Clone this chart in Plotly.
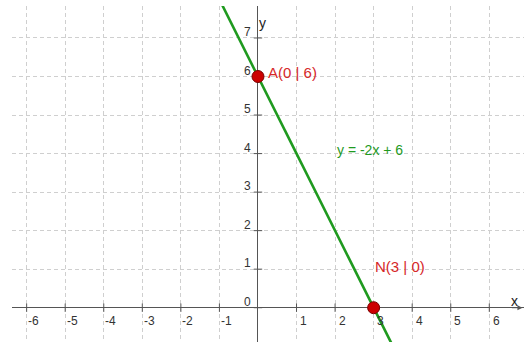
import plotly.graph_objects as go

# data
line_x = [-1.0, 3.6]
line_y = [8.0, -1.2]
point_names = ["A(0 | 6)", "N(3 | 0)"]
point_x = [0, 3]
point_y = [6, 0]
x_ticks = [-6, -5, -4, -3, -2, -1, 1, 2, 3, 4, 5, 6]
y_ticks = [0, 1, 2, 3, 4, 5, 6, 7]
equation = "y = -2x + 6"

green = "#1f9a1f"
red = "#d62828"
axis_col = "#555555"
font = "Liberation Sans, Arial, sans-serif"

fig = go.Figure()

# tick marks on the axes
fig.add_trace(go.Scatter(x=x_ticks, y=[0] * len(x_ticks), mode="markers",
                         marker=dict(symbol="line-ns", size=6, line=dict(color=axis_col, width=1)),
                         hoverinfo="skip"))
fig.add_trace(go.Scatter(x=[0] * len(y_ticks), y=y_ticks, mode="markers",
                         marker=dict(symbol="line-ew", size=6, line=dict(color=axis_col, width=1)),
                         hoverinfo="skip"))

fig.add_trace(go.Scatter(x=line_x, y=line_y, mode="lines",
                         line=dict(color=green, width=2.6), hoverinfo="skip"))

fig.add_trace(go.Scatter(x=point_x, y=point_y, mode="markers",
                         marker=dict(color="#cc0000", size=12, line=dict(color="#7a0000", width=1)),
                         hoverinfo="skip"))

# tick labels
for t in x_ticks:
    fig.add_annotation(x=t, y=0, text=str(t), showarrow=False, xshift=7, yshift=-13,
                       font=dict(family=font, size=12, color="#333333"))
for t in y_ticks:
    fig.add_annotation(x=0, y=t, text=str(t), showarrow=False, xshift=-10, yshift=6,
                       font=dict(family=font, size=12, color="#333333"))

# point labels and equation
fig.add_annotation(x=0.2, y=6.1, text=point_names[0], showarrow=False, xanchor="left",
                   font=dict(family=font, size=15, color=red))
fig.add_annotation(x=2.98, y=1.06, text=point_names[1], showarrow=False, xanchor="left",
                   font=dict(family=font, size=15, color=red))
fig.add_annotation(x=2.0, y=4.1, text=equation, showarrow=False, xanchor="left",
                   font=dict(family=font, size=14, color=green))

# axis names
fig.add_annotation(x=0.13, y=7.4, text="y", showarrow=False,
                   font=dict(family=font, size=14, color="#222222"))
fig.add_annotation(x=6.66, y=0.17, text="x", showarrow=False,
                   font=dict(family=font, size=14, color="#222222"))

# axis arrows
fig.add_annotation(x=0, y=7.9, ax=0, ay=12, showarrow=True, arrowhead=2, arrowsize=1,
                   arrowwidth=1, arrowcolor=axis_col, text="")
fig.add_annotation(x=6.86, y=0, ax=-12, ay=0, showarrow=True, arrowhead=2, arrowsize=1,
                   arrowwidth=1, arrowcolor=axis_col, text="")

fig.update_layout(width=524, height=342, margin=dict(l=12, r=0, t=6, b=0),
                  plot_bgcolor="white", paper_bgcolor="white", showlegend=False)
fig.update_xaxes(range=[-6.38, 6.9], tickvals=list(range(-6, 7)), showticklabels=False,
                 showgrid=True, gridcolor="#cfcfcf", griddash="4px,3px", gridwidth=1,
                 zeroline=True, zerolinecolor=axis_col, zerolinewidth=1, showline=False)
fig.update_yaxes(range=[-0.89, 7.83], tickvals=list(range(0, 8)), showticklabels=False,
                 showgrid=True, gridcolor="#cfcfcf", griddash="4px,3px", gridwidth=1,
                 zeroline=True, zerolinecolor=axis_col, zerolinewidth=1, showline=False)

# page body has a default 8px margin; drop it so the figure fills the window
fig.write_html("out.html", config={"displayModeBar": False},
               post_script="document.body.style.margin='0';")
